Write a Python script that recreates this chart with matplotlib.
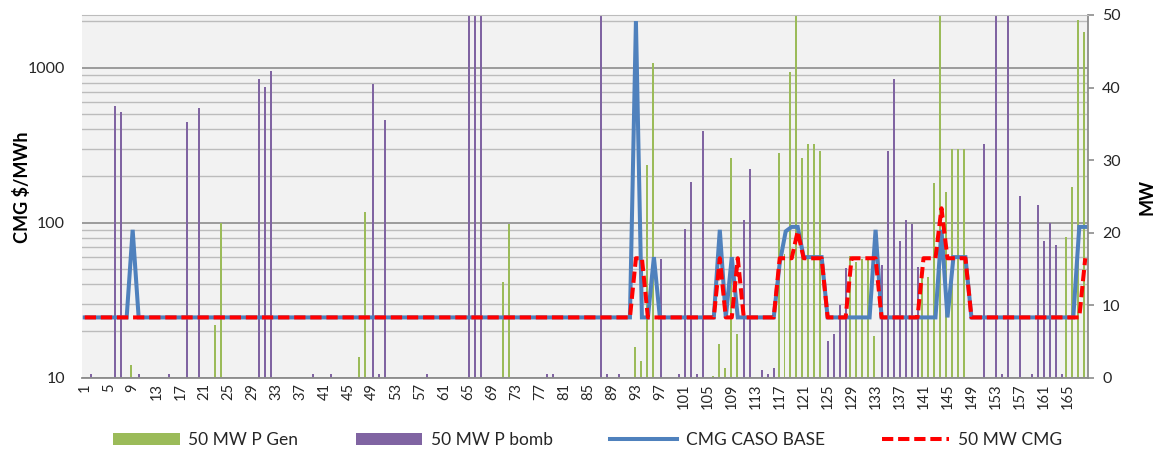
import numpy as np
import matplotlib.pyplot as plt
import matplotlib.ticker as mticker
from matplotlib.patches import Patch
from matplotlib.lines import Line2D

# horas de la semana
hours = np.arange(1, 169)

# MW, eje derecho
p_gen = [
    0, 0, 0, 0, 0, 0, 0, 0, 1.75, 0, 0, 0,
    0, 0, 0, 0, 0, 0, 0, 0, 0, 0, 7.3, 21.3,
    0, 0, 0, 0, 0, 0, 0, 0, 0, 0, 0, 0,
    0, 0, 0, 0, 0, 0, 0, 0, 0, 0, 2.8, 22.8,
    0, 0, 0, 0, 0, 0, 0, 0, 0, 0, 0, 0,
    0, 0, 0, 0, 0, 0, 0, 0, 0, 0, 13.2, 21.2,
    0, 0, 0, 0, 0, 0, 0, 0, 0, 0, 0, 0,
    0, 0, 0, 0, 0, 0, 0, 0, 4.3, 2.3, 29.3, 43.4,
    0, 0, 0, 0, 0, 0, 0, 0, 0, 0.2, 4.7, 1.4,
    30.3, 6.0, 0, 0, 0, 0, 0, 0, 31.0, 17.0, 42.1, 50,
    30.3, 32.2, 32.2, 31.3, 0, 0, 0, 0, 16.8, 16.0, 16.3, 16.5,
    5.75, 0, 0, 0, 0, 0, 0, 0, 15.0, 13.9, 26.9, 50,
    25.6, 31.5, 31.5, 31.5, 0, 0, 0, 0, 0, 0, 0, 0,
    0, 0, 0, 0, 0, 0, 0, 0, 19.4, 26.3, 49.3, 47.7,
]
p_bomb = [
    0, 0.5, 0, 0, 0, 37.5, 36.6, 0, 0, 0.5, 0, 0,
    0, 0, 0.5, 0, 0, 35.2, 0, 37.2, 0, 0, 0, 0,
    0, 0, 0, 0, 0, 41.2, 40.1, 42.3, 0, 0, 0, 0,
    0, 0, 0.5, 0, 0, 0.5, 0, 0, 0, 0, 0, 0,
    40.5, 0.5, 35.5, 0, 0, 0, 0, 0, 0, 0.5, 0, 0,
    0, 0, 0, 0, 50, 50, 50, 0, 0, 0, 0, 0,
    0, 0, 0, 0, 0, 0.5, 0.5, 0, 0, 0, 0, 0,
    0, 0, 50, 0.5, 0, 0.5, 0, 0, 0, 0, 0, 0,
    16.4, 0, 0, 0.5, 20.5, 27.0, 0.5, 34.0, 0, 0, 0, 0,
    0, 0, 21.8, 28.8, 0, 1.0, 0.5, 1.3, 0, 0, 0, 0,
    0, 0, 0, 0, 5.1, 6.0, 10.0, 15.1, 0, 0, 0, 0,
    0, 15.5, 31.3, 41.2, 18.8, 21.7, 21.2, 15.2, 0, 0, 0, 0,
    0, 0, 0, 0, 0, 0, 32.2, 0, 50, 0.5, 50, 0,
    25.1, 0, 0.5, 23.8, 18.8, 21.3, 18.3, 0.5, 0, 0, 0, 0,
]

# $/MWh, eje izquierdo (log)
cmg_base = [
    24.5, 24.5, 24.5, 24.5, 24.5, 24.5, 24.5, 24.5, 90, 24.5, 24.5, 24.5,
    24.5, 24.5, 24.5, 24.5, 24.5, 24.5, 24.5, 24.5, 24.5, 24.5, 24.5, 24.5,
    24.5, 24.5, 24.5, 24.5, 24.5, 24.5, 24.5, 24.5, 24.5, 24.5, 24.5, 24.5,
    24.5, 24.5, 24.5, 24.5, 24.5, 24.5, 24.5, 24.5, 24.5, 24.5, 24.5, 24.5,
    24.5, 24.5, 24.5, 24.5, 24.5, 24.5, 24.5, 24.5, 24.5, 24.5, 24.5, 24.5,
    24.5, 24.5, 24.5, 24.5, 24.5, 24.5, 24.5, 24.5, 24.5, 24.5, 24.5, 24.5,
    24.5, 24.5, 24.5, 24.5, 24.5, 24.5, 24.5, 24.5, 24.5, 24.5, 24.5, 24.5,
    24.5, 24.5, 24.5, 24.5, 24.5, 24.5, 24.5, 24.5, 2000, 24.5, 24.5, 60,
    24.5, 24.5, 24.5, 24.5, 24.5, 24.5, 24.5, 24.5, 24.5, 24.5, 90, 24.5,
    60, 24.5, 24.5, 24.5, 24.5, 24.5, 24.5, 24.5, 55, 88, 94, 94,
    60, 60, 60, 60, 24.5, 24.5, 24.5, 24.5, 24.5, 24.5, 24.5, 24.5,
    90, 24.5, 24.5, 24.5, 24.5, 24.5, 24.5, 24.5, 24.5, 24.5, 24.5, 90,
    24.5, 60, 60, 60, 24.5, 24.5, 24.5, 24.5, 24.5, 24.5, 24.5, 24.5,
    24.5, 24.5, 24.5, 24.5, 24.5, 24.5, 24.5, 24.5, 24.5, 24.5, 94, 94,
]
cmg_50mw = [
    24.5, 24.5, 24.5, 24.5, 24.5, 24.5, 24.5, 24.5, 24.5, 24.5, 24.5, 24.5,
    24.5, 24.5, 24.5, 24.5, 24.5, 24.5, 24.5, 24.5, 24.5, 24.5, 24.5, 24.5,
    24.5, 24.5, 24.5, 24.5, 24.5, 24.5, 24.5, 24.5, 24.5, 24.5, 24.5, 24.5,
    24.5, 24.5, 24.5, 24.5, 24.5, 24.5, 24.5, 24.5, 24.5, 24.5, 24.5, 24.5,
    24.5, 24.5, 24.5, 24.5, 24.5, 24.5, 24.5, 24.5, 24.5, 24.5, 24.5, 24.5,
    24.5, 24.5, 24.5, 24.5, 24.5, 24.5, 24.5, 24.5, 24.5, 24.5, 24.5, 24.5,
    24.5, 24.5, 24.5, 24.5, 24.5, 24.5, 24.5, 24.5, 24.5, 24.5, 24.5, 24.5,
    24.5, 24.5, 24.5, 24.5, 24.5, 24.5, 24.5, 24.5, 59, 59, 24.5, 24.5,
    24.5, 24.5, 24.5, 24.5, 24.5, 24.5, 24.5, 24.5, 24.5, 24.5, 59, 24.5,
    24.5, 59, 24.5, 24.5, 24.5, 24.5, 24.5, 24.5, 59, 59, 59, 88,
    59, 59, 59, 59, 24.5, 24.5, 24.5, 24.5, 59, 59, 59, 59,
    59, 24.5, 24.5, 24.5, 24.5, 24.5, 24.5, 24.5, 59, 59, 59, 124,
    59, 59, 59, 59, 24.5, 24.5, 24.5, 24.5, 24.5, 24.5, 24.5, 24.5,
    24.5, 24.5, 24.5, 24.5, 24.5, 24.5, 24.5, 24.5, 24.5, 24.5, 24.5, 59,
]

plt.rcParams['font.family'] = ['Lato', 'DejaVu Sans']
txt = '#262626'

fig = plt.figure(figsize=(11.56, 4.54), dpi=100)
ax = fig.add_axes([0.0707, 0.168, 0.8707, 0.799])

# eje log con la rejilla
ax.set_facecolor('#f2f2f2')
ax.set_yscale('log')
ax.set_ylim(10, 2190)
ax.set_xlim(0.5, 168.5)
ax.yaxis.set_major_locator(mticker.LogLocator(base=10, numticks=10))
ax.yaxis.set_minor_locator(mticker.LogLocator(base=10, subs=range(2, 10), numticks=10))
ax.yaxis.set_major_formatter(mticker.FuncFormatter(lambda v, p: f'{v:.0f}'))
ax.yaxis.set_minor_formatter(mticker.NullFormatter())
ax.grid(which='minor', axis='y', color='#bcbcbc', lw=1.0)
ax.grid(which='major', axis='y', color='#8c8c8c', lw=1.2)
ax.set_axisbelow(True)
ax.tick_params(axis='y', which='both', length=0, pad=12, labelsize=11.5, labelcolor=txt)
ax.set_xticks(hours[::4])
ax.set_xticklabels([str(h) for h in hours[::4]], rotation=90)
ax.tick_params(axis='x', length=0, pad=4, labelsize=10.5, labelcolor=txt)
for s in ax.spines.values():
    s.set_visible(False)

# barras MW
axb = ax.twinx()
axb.bar(hours - 0.2, p_gen, width=0.333, color='#9bbb59', linewidth=0, antialiased=False)
axb.bar(hours + 0.12, p_bomb, width=0.333, color='#8064a2', linewidth=0, antialiased=False)
axb.set_ylim(0, 50)
axb.set_yticks(range(0, 51, 10))
axb.tick_params(axis='y', length=4, width=1.2, color='#8c8c8c', pad=6,
                labelsize=11.5, labelcolor=txt)
axb.spines['left'].set_visible(False)
axb.spines['top'].set_color('#bcbcbc')
axb.spines['right'].set_color('#8c8c8c')
axb.spines['right'].set_linewidth(1.3)
axb.spines['bottom'].set_color('#8c8c8c')
axb.spines['bottom'].set_linewidth(1.3)

# lineas CMG encima
axl = ax.twinx()
axl.set_yscale('log')
axl.set_ylim(10, 2190)
axl.plot(hours, cmg_base, color='#4f81bd', lw=2.9, solid_joinstyle='miter')
axl.plot(hours, cmg_50mw, color='#ff0000', lw=2.9, ls=(0, (2.8, 1.2)))
axl.axis('off')

fig.text(22 / 1156, 1 - 187 / 454, 'CMG $/MWh', rotation=90, ha='center', va='center',
         fontsize=13, fontweight='bold', color='black')
fig.text(1147 / 1156, 1 - 197 / 454, 'MW', rotation=90, ha='center', va='center',
         fontsize=13, fontweight='bold', color='black')

handles = [
    Patch(facecolor='#9bbb59', label='50 MW P Gen'),
    Patch(facecolor='#8064a2', label='50 MW P bomb'),
    Line2D([], [], color='#4f81bd', lw=2.9, label='CMG CASO BASE'),
    Line2D([], [], color='#ff0000', lw=2.9, ls=(0, (2.8, 1.2)), label='50 MW CMG'),
]
fig.legend(handles=handles, loc='center', bbox_to_anchor=(0.508, 0.031), ncol=4,
           frameon=False, fontsize=12.5, handlelength=3.85, handleheight=0.7,
           columnspacing=3.3, handletextpad=0.5, labelcolor=txt)

fig.savefig('out.png', dpi=100)
